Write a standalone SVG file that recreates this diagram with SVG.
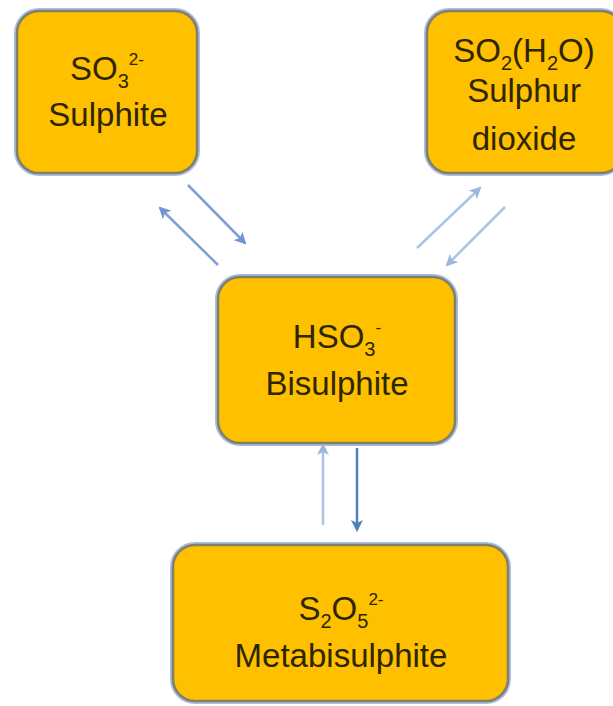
<svg xmlns="http://www.w3.org/2000/svg" width="613" height="706" viewBox="0 0 613 706">
<defs>
<style>
.box{fill:#FFC000;stroke:#7f7f6a;stroke-width:2.5}
.halo{fill:none;stroke:#a9bde0;stroke-width:6}
.t{font-family:"Liberation Sans",Arial,sans-serif;font-size:33px;fill:#2e2600;text-anchor:middle}
.s{font-size:20px}
.p{font-size:17px}
.c{fill:none;stroke-width:2.5}
.dark{stroke:#4f81bd}
.mid{stroke:#7ea0d3}
.light{stroke:#adc3e6}
</style>
<marker id="hd" viewBox="0 0 12 12" refX="10" refY="6" markerWidth="12" markerHeight="12" markerUnits="userSpaceOnUse" orient="auto">
<path d="M0,0 L12,6 L0,12 L3,6 z" fill="#4f81bd"/>
</marker>
<marker id="hm" viewBox="0 0 12 12" refX="10" refY="6" markerWidth="12" markerHeight="12" markerUnits="userSpaceOnUse" orient="auto">
<path d="M0,0 L12,6 L0,12 L3,6 z" fill="#6f94cf"/>
</marker>
<marker id="hl" viewBox="0 0 12 12" refX="10" refY="6" markerWidth="12" markerHeight="12" markerUnits="userSpaceOnUse" orient="auto">
<path d="M0,0 L12,6 L0,12 L3,6 z" fill="#9cb6e0"/>
</marker>
</defs>
<rect width="613" height="706" fill="#ffffff"/>
<g id="connectors">
<line class="c mid" x1="188" y1="185" x2="245" y2="243" marker-end="url(#hm)"/>
<line class="c mid" x1="218" y1="265" x2="160" y2="208" marker-end="url(#hm)"/>
<line class="c light" x1="417" y1="248" x2="480" y2="188" marker-end="url(#hl)"/>
<line class="c light" x1="505" y1="207" x2="447" y2="265" marker-end="url(#hl)"/>
<line class="c light" x1="323" y1="525" x2="323" y2="445" marker-end="url(#hl)"/>
<line class="c dark" x1="357" y1="448" x2="357" y2="530" marker-end="url(#hd)"/>
</g>
<g id="sulphite">
<rect class="halo" x="17" y="11" width="180" height="162" rx="22"/>
<rect class="box" x="17" y="11" width="180" height="162" rx="22"/>
<text class="t" x="107" y="80">SO<tspan class="s" dy="8">3</tspan><tspan class="p" dy="-23">2-</tspan></text>
<text class="t" x="108" y="126">Sulphite</text>
</g>
<g id="sulphur-dioxide">
<rect class="halo" x="427" y="11" width="196" height="162" rx="22"/>
<rect class="box" x="427" y="11" width="196" height="162" rx="22"/>
<text class="t" x="524" y="62">SO<tspan class="s" dy="8">2</tspan><tspan dy="-8">(H</tspan><tspan class="s" dy="8">2</tspan><tspan dy="-8">O)</tspan></text>
<text class="t" x="524" y="102">Sulphur</text>
<text class="t" x="524" y="150">dioxide</text>
</g>
<g id="bisulphite">
<rect class="halo" x="218" y="277" width="237" height="166" rx="22"/>
<rect class="box" x="218" y="277" width="237" height="166" rx="22"/>
<text class="t" x="337" y="348">HSO<tspan class="s" dy="8">3</tspan><tspan class="p" dy="-23">-</tspan></text>
<text class="t" x="337" y="395">Bisulphite</text>
</g>
<g id="metabisulphite">
<rect class="halo" x="173" y="545" width="335" height="156" rx="22"/>
<rect class="box" x="173" y="545" width="335" height="156" rx="22"/>
<text class="t" x="341" y="620">S<tspan class="s" dy="8">2</tspan><tspan dy="-8">O</tspan><tspan class="s" dy="8">5</tspan><tspan class="p" dy="-23">2-</tspan></text>
<text class="t" x="341" y="667">Metabisulphite</text>
</g>
</svg>
